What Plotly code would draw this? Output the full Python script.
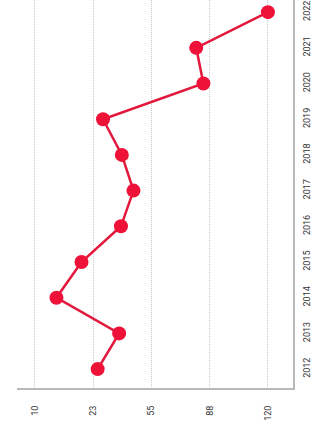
import plotly.graph_objects as go

years = [2012, 2013, 2014, 2015, 2016, 2017, 2018, 2019, 2020, 2021, 2022]
values = [25, 37, 2, 16, 38, 45, 38.5, 28, 84, 80, 120]
tick_vals = [-10, 22.5, 55, 87.5, 120]
tick_text = ["10", "23", "55", "88", "120"]

fig = go.Figure()
fig.add_trace(go.Scatter(
    x=values, y=years, mode="lines+markers",
    line=dict(color="#e2183c", width=2.5),
    marker=dict(color="#ee1238", size=14),
    showlegend=False,
))

fig.update_layout(
    width=314, height=428,
    margin=dict(l=17, r=21, t=0, b=40),
    paper_bgcolor="white", plot_bgcolor="white",
    font=dict(family="Roboto", size=9, color="#333"),
    xaxis=dict(
        range=[-20, 134], tickvals=tick_vals, ticktext=tick_text,
        tickangle=-90, showgrid=True, gridcolor="#c8c8c8", griddash="1px,1px",
        gridwidth=1, zeroline=False, showline=True, linecolor="#b8b8b8",
        linewidth=2, ticks="", ticklabelstandoff=12,
    ),
    yaxis=dict(
        range=[2011.47, 2022.34], tickvals=years, side="right",
        tickangle=-90, showgrid=False, zeroline=False, showline=True,
        linecolor="#b8b8b8", linewidth=2, ticks="", ticklabelstandoff=4,
    ),
)

fig.write_html("out.html", config={"displayModeBar": False},
               post_script="document.body.style.margin='0';document.body.style.padding='0';")
